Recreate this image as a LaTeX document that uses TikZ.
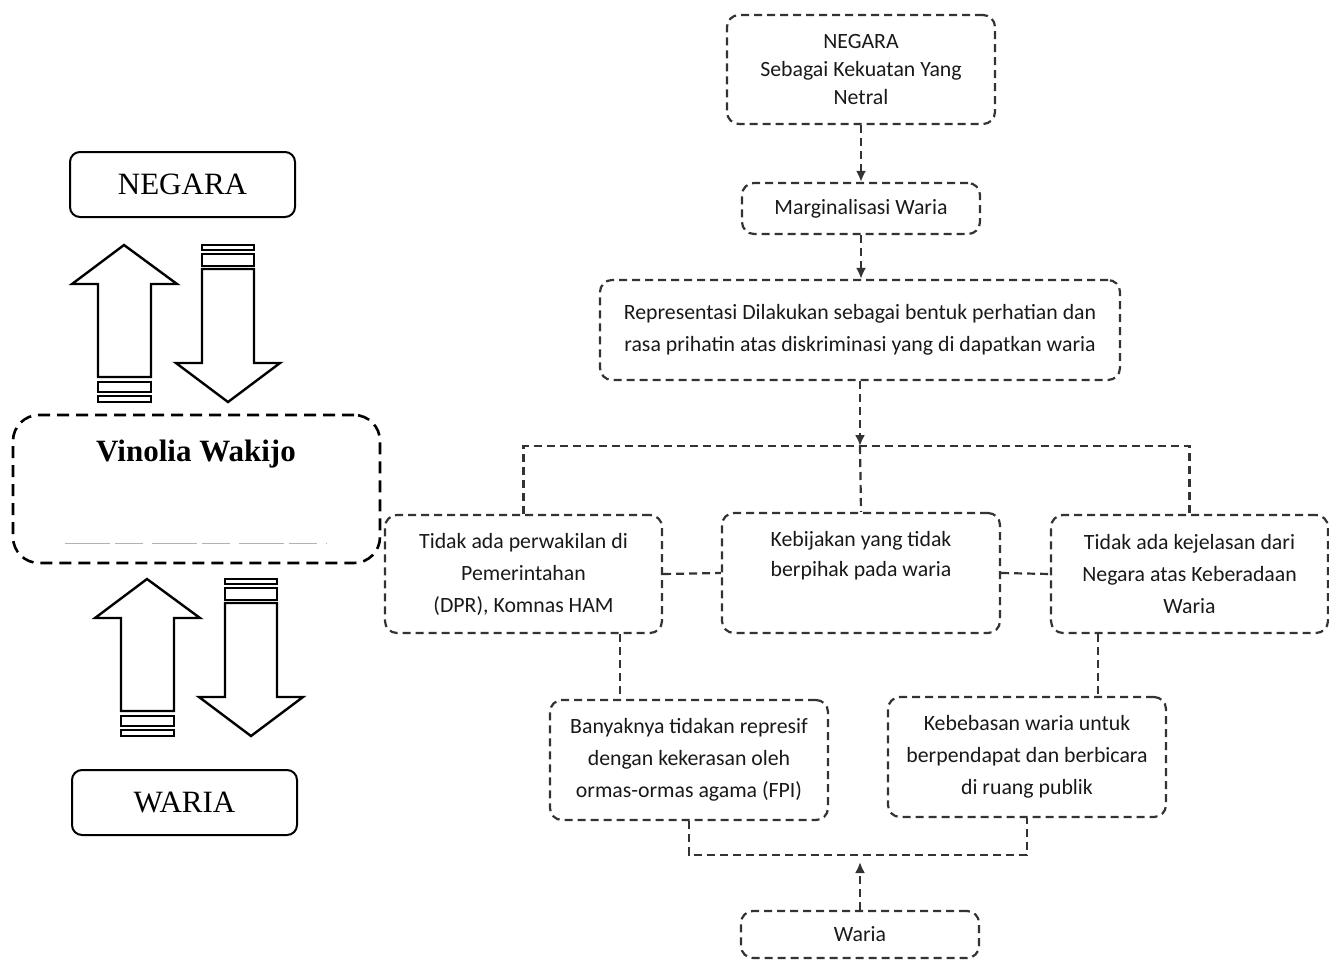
\documentclass[tikz,border=0pt]{standalone}
\usepackage{fontspec}
\setmainfont{Liberation Serif}
\newfontfamily\calibri{Carlito}
\usetikzlibrary{arrows.meta, positioning}

\begin{document}
\begin{tikzpicture}[x=1pt, y=-1pt,
    box/.style={draw=black!80, line width=2.2pt, dash pattern=on 8pt off 5pt,
        rounded corners=12pt, align=center, inner sep=0pt, text=black!90,
        font=\calibri\fontsize{21.8}{32}\selectfont},
    link/.style={draw=black!80, line width=2.2pt, dash pattern=on 8pt off 5pt},
    tip/.style={-{Latex[length=11pt,width=10pt]}},
    solidbox/.style={draw, line width=2pt, rounded corners=10pt,
        minimum width=225pt, minimum height=65pt, font=\fontsize{31}{36}\selectfont},
    blockarrow/.style={draw, line width=2.4pt, fill=white, line join=miter}]
    \useasboundingbox (0,0) rectangle (1329,963);

    % left side
    \node[solidbox] (negl) at (182.5,184.5) {NEGARA};
    \node[solidbox] (waril) at (184.5,802.5) {WARIA};
    \node[draw, line width=2.6pt, dash pattern=on 12pt off 7pt, rounded corners=26pt,
        minimum width=367pt, minimum height=148pt] (vino) at (196.5,489) {};
    \node[font=\bfseries\fontsize{31}{36}\selectfont] (vinot) at (196,454) {Vinolia Wakijo};
    \draw[black!30, line width=1pt, dash pattern=on 45pt off 5pt on 28pt off 9pt] (65,543) -- (327,543);

    \foreach \dx/\dy in {0/0, 23/334} {
        \begin{scope}[shift={(\dx,\dy)}]
            % up
            \draw[blockarrow] (124,245) -- (177,284) -- (151,284) -- (151,377)
                -- (98,377) -- (98,284) -- (72,284) -- cycle;
            \draw[blockarrow] (98,382) rectangle (151,392);
            \draw[blockarrow] (98,396) rectangle (151,402);
            % down
            \draw[blockarrow] (202,269) -- (254,269) -- (254,363) -- (280,363)
                -- (228,402) -- (176,363) -- (202,363) -- cycle;
            \draw[blockarrow] (202,254) rectangle (254,266);
            \draw[blockarrow] (202,245) rectangle (254,250);
        \end{scope}
    }

    % right side
    \node[box, minimum width=268pt, minimum height=109pt,
        font=\calibri\fontsize{21.8}{28}\selectfont] (neg) at (861,69.5)
        {NEGARA\\Sebagai Kekuatan Yang\\Netral};
    \node[box, minimum width=238pt, minimum height=51pt] (marg) at (861,208.5) {Marginalisasi Waria};
    \node[box, minimum width=520pt, minimum height=100pt] (rep) at (860,330)
        {Representasi Dilakukan sebagai bentuk perhatian dan\\rasa prihatin atas diskriminasi yang di dapatkan waria};
    \node[box, minimum width=277pt, minimum height=118pt] (perw) at (523.5,574)
        {Tidak ada perwakilan di\\Pemerintahan\\(DPR), Komnas HAM};
    \node[box, minimum width=278pt, minimum height=120pt,
        font=\calibri\fontsize{21.8}{30}\selectfont] (kebij) at (861,573)
        {Kebijakan yang tidak\\berpihak pada waria\\\strut};
    \node[box, minimum width=277pt, minimum height=118pt] (jelas) at (1189.5,574)
        {Tidak ada kejelasan dari\\Negara atas Keberadaan\\Waria};
    \node[box, minimum width=278pt, minimum height=120pt] (repres) at (689,760)
        {Banyaknya tidakan represif\\dengan kekerasan oleh\\ormas-ormas agama (FPI)};
    \node[box, minimum width=278pt, minimum height=120pt] (bebas) at (1027,757)
        {Kebebasan waria untuk\\berpendapat dan berbicara\\di ruang publik};
    \node[box, minimum width=238pt, minimum height=47pt] (waria) at (860,934.5) {Waria};

    \coordinate (split) at (860,446);
    \coordinate (join) at (860,855);
    \coordinate (l1) at (620,0);
    \coordinate (r1) at (1098,0);

    \draw[link, tip] (neg.south) -- (marg.north);
    \draw[link, tip] (marg.south) -- (marg.south |- rep.north);
    \draw[link, tip] (rep.south) -- (split);
    \draw[link] (perw.north) |- (split) -| (jelas.north);
    \draw[link] (split) -- (kebij.north);
    \draw[link] (perw.east) -- (kebij.west);
    \draw[link] (kebij.east) -- (jelas.west);
    \draw[link] (perw.south -| l1) -- (repres.north -| l1);
    \draw[link] (jelas.south -| r1) -- (bebas.north -| r1);
    \draw[link] (repres.south) |- (join) -| (bebas.south);
    \draw[link, tip, shorten >=7pt] (waria.north) -- (join);
\end{tikzpicture}
\end{document}
